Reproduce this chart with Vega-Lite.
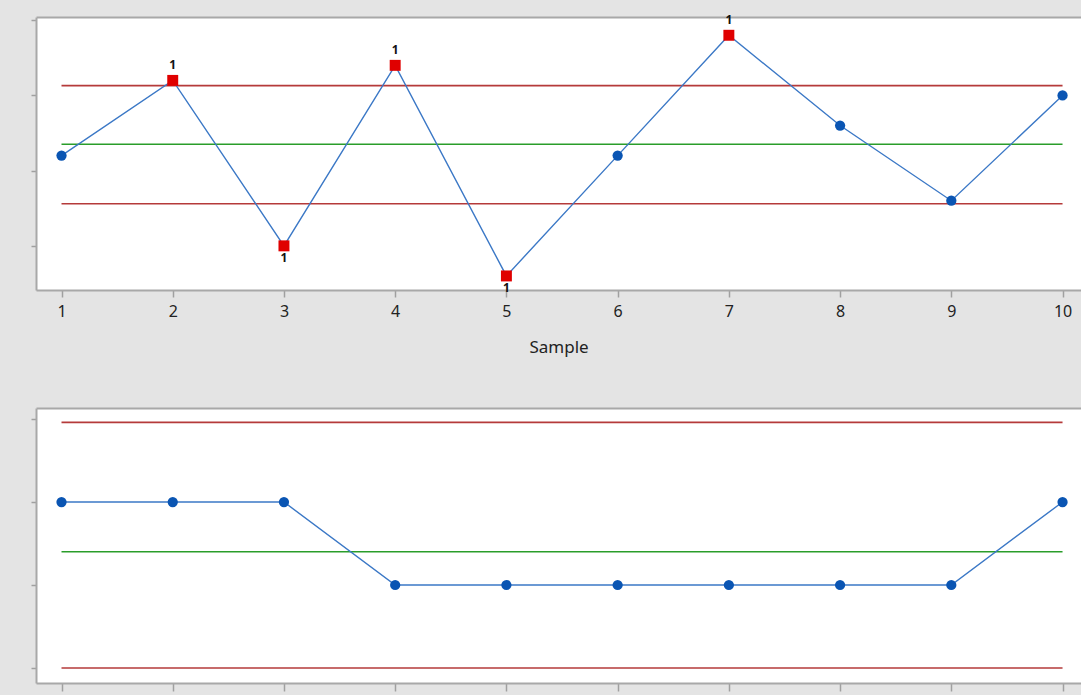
{
  "$schema": "https://vega.github.io/schema/vega-lite/v6.json",
  "background": "#e4e4e4",
  "padding": {"left": 30, "top": 14, "right": 0, "bottom": 3},
  "bounds": "flush",
  "spacing": 118,
  "config": {
    "view": {"fill": "white", "stroke": null},
    "font": "Noto Sans",
    "axis": {"domainColor": "#a8a8a8", "domainWidth": 2, "tickColor": "#a0a0a0", "tickWidth": 1.5, "grid": false}
  },
  "datasets": {
    "samples": [
      {"sample": 1, "xbar": 8.2, "range": 2, "xtest": 0},
      {"sample": 2, "xbar": 9.2, "range": 2, "xtest": 1},
      {"sample": 3, "xbar": 7.0, "range": 2, "xtest": 1},
      {"sample": 4, "xbar": 9.4, "range": 1, "xtest": 1},
      {"sample": 5, "xbar": 6.6, "range": 1, "xtest": 1},
      {"sample": 6, "xbar": 8.2, "range": 1, "xtest": 0},
      {"sample": 7, "xbar": 9.8, "range": 1, "xtest": 1},
      {"sample": 8, "xbar": 8.6, "range": 1, "xtest": 0},
      {"sample": 9, "xbar": 7.6, "range": 1, "xtest": 0},
      {"sample": 10, "xbar": 9.0, "range": 2, "xtest": 0}
    ],
    "limits": [
      {"chart": "xbar", "limit": "UCL", "value": 9.13},
      {"chart": "xbar", "limit": "CL", "value": 8.35},
      {"chart": "xbar", "limit": "LCL", "value": 7.56},
      {"chart": "r", "limit": "UCL", "value": 2.96},
      {"chart": "r", "limit": "CL", "value": 1.4},
      {"chart": "r", "limit": "LCL", "value": 0}
    ]
  },
  "vconcat": [
    {
      "width": 1045,
      "height": 273,
      "data": {"name": "samples"},
      "resolve": {"axis": {"x": "independent"}},
      "layer": [
        {
          "data": {"name": "limits"},
          "transform": [{"filter": "datum.chart == 'xbar'"}],
          "mark": {"type": "rule", "strokeWidth": 1.6},
          "encoding": {
            "x": {"datum": 1, "type": "quantitative", "scale": {"domain": [0.7707, 10.166], "nice": false, "zero": false}, "axis": null},
            "x2": {"datum": 10},
            "y": {"field": "value", "type": "quantitative", "scale": {"domain": [6.413, 10.043], "nice": false, "zero": false}, "axis": {"values": [7, 8, 9, 10], "labels": false, "tickSize": 5, "title": null}},
            "color": {"field": "limit", "type": "nominal", "scale": {"domain": ["UCL", "CL", "LCL"], "range": ["#b53a3a", "#2a9d2a", "#b53a3a"]}, "legend": null}
          }
        },
        {
          "mark": {"type": "line", "color": "#3b78c6", "strokeWidth": 1.4},
          "encoding": {
            "x": {"field": "sample", "type": "quantitative", "scale": {"domain": [0.7707, 10.166], "nice": false, "zero": false},
              "axis": {"orient": "bottom", "values": [1, 2, 3, 4, 5, 6, 7, 8, 9, 10], "format": "d", "tickSize": 7, "labelFontSize": 16, "labelColor": "#222222", "labelPadding": 6, "title": "Sample", "titleFontSize": 17, "titleFontWeight": "normal", "titleColor": "#222222", "titlePadding": 20}},
            "y": {"field": "xbar", "type": "quantitative", "scale": {"domain": [6.413, 10.043], "nice": false, "zero": false}, "axis": {"values": [7, 8, 9, 10], "labels": false, "tickSize": 5, "title": null}}
          }
        },
        {
          "transform": [{"filter": "datum.xtest == 0"}],
          "mark": {"type": "point", "shape": "circle", "filled": true, "opacity": 1, "color": "#0a55b3", "size": 105},
          "encoding": {
            "x": {"field": "sample", "type": "quantitative", "scale": {"domain": [0.7707, 10.166], "nice": false, "zero": false},
              "axis": {"orient": "top", "labels": false, "ticks": false, "title": null}},
            "y": {"field": "xbar", "type": "quantitative", "scale": {"domain": [6.413, 10.043], "nice": false, "zero": false}, "axis": {"values": [7, 8, 9, 10], "labels": false, "tickSize": 5, "title": null}}
          }
        },
        {
          "transform": [{"filter": "datum.xtest == 1"}],
          "mark": {"type": "point", "shape": "square", "filled": true, "opacity": 1, "color": "#e00000", "size": 120},
          "encoding": {
            "x": {"field": "sample", "type": "quantitative", "scale": {"domain": [0.7707, 10.166], "nice": false, "zero": false}, "axis": null},
            "y": {"field": "xbar", "type": "quantitative", "scale": {"domain": [6.413, 10.043], "nice": false, "zero": false}, "axis": {"values": [7, 8, 9, 10], "labels": false, "tickSize": 5, "title": null}}
          }
        },
        {
          "transform": [{"filter": "datum.xtest == 1 && datum.xbar > 8.35"}],
          "mark": {"type": "text", "text": "1", "dy": -15, "fontSize": 12, "fontWeight": "bold", "color": "#111111", "baseline": "middle"},
          "encoding": {
            "x": {"field": "sample", "type": "quantitative", "scale": {"domain": [0.7707, 10.166], "nice": false, "zero": false}, "axis": null},
            "y": {"field": "xbar", "type": "quantitative", "scale": {"domain": [6.413, 10.043], "nice": false, "zero": false}, "axis": {"values": [7, 8, 9, 10], "labels": false, "tickSize": 5, "title": null}}
          }
        },
        {
          "transform": [{"filter": "datum.xtest == 1 && datum.xbar < 8.35"}],
          "mark": {"type": "text", "text": "1", "dy": 12, "fontSize": 12, "fontWeight": "bold", "color": "#111111", "baseline": "middle"},
          "encoding": {
            "x": {"field": "sample", "type": "quantitative", "scale": {"domain": [0.7707, 10.166], "nice": false, "zero": false}, "axis": null},
            "y": {"field": "xbar", "type": "quantitative", "scale": {"domain": [6.413, 10.043], "nice": false, "zero": false}, "axis": {"values": [7, 8, 9, 10], "labels": false, "tickSize": 5, "title": null}}
          }
        }
      ]
    },
    {
      "width": 1045,
      "height": 275,
      "data": {"name": "samples"},
      "resolve": {"axis": {"x": "independent"}},
      "layer": [
        {
          "data": {"name": "limits"},
          "transform": [{"filter": "datum.chart == 'r'"}],
          "mark": {"type": "rule", "strokeWidth": 1.6},
          "encoding": {
            "x": {"datum": 1, "type": "quantitative", "scale": {"domain": [0.7707, 10.166], "nice": false, "zero": false}, "axis": null},
            "x2": {"datum": 10},
            "y": {"field": "value", "type": "quantitative", "scale": {"domain": [-0.181, 3.133], "nice": false, "zero": false}, "axis": {"values": [0, 1, 2, 3], "labels": false, "tickSize": 5, "title": null}},
            "color": {"field": "limit", "type": "nominal", "scale": {"domain": ["UCL", "CL", "LCL"], "range": ["#b53a3a", "#2a9d2a", "#b53a3a"]}, "legend": null}
          }
        },
        {
          "mark": {"type": "line", "color": "#3b78c6", "strokeWidth": 1.4},
          "encoding": {
            "x": {"field": "sample", "type": "quantitative", "scale": {"domain": [0.7707, 10.166], "nice": false, "zero": false},
              "axis": {"orient": "bottom", "values": [1, 2, 3, 4, 5, 6, 7, 8, 9, 10], "labels": false, "tickSize": 8, "title": null}},
            "y": {"field": "range", "type": "quantitative", "scale": {"domain": [-0.181, 3.133], "nice": false, "zero": false}, "axis": {"values": [0, 1, 2, 3], "labels": false, "tickSize": 5, "title": null}}
          }
        },
        {
          "mark": {"type": "point", "shape": "circle", "filled": true, "opacity": 1, "color": "#0a55b3", "size": 105},
          "encoding": {
            "x": {"field": "sample", "type": "quantitative", "scale": {"domain": [0.7707, 10.166], "nice": false, "zero": false},
              "axis": {"orient": "top", "labels": false, "ticks": false, "title": null}},
            "y": {"field": "range", "type": "quantitative", "scale": {"domain": [-0.181, 3.133], "nice": false, "zero": false}, "axis": {"values": [0, 1, 2, 3], "labels": false, "tickSize": 5, "title": null}}
          }
        }
      ]
    }
  ]
}
